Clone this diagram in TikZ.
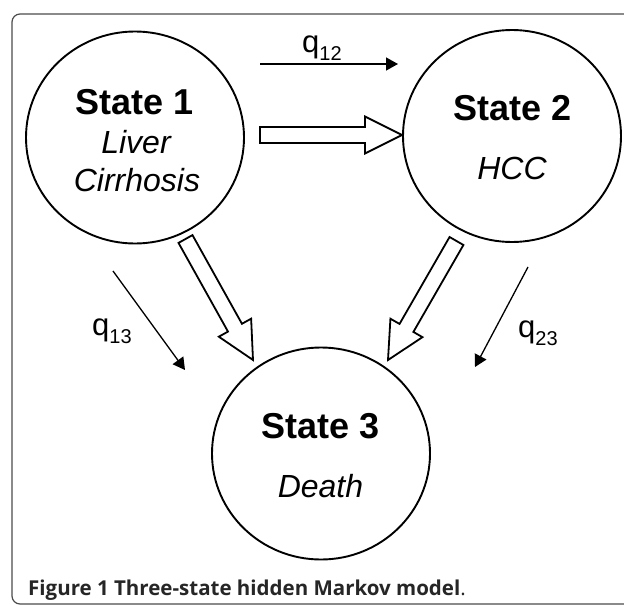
\documentclass[tikz,border=0pt]{standalone}
\usepackage{fontspec}
\setmainfont{Liberation Sans}
\newfontfamily\capfont{Open Sans}
\usetikzlibrary{calc,arrows.meta,shapes.geometric}
\newcommand{\blockarrow}[3]{%
  \coordinate (#3h) at ($(#2)!37pt!(#1)$);
  \draw[block] ($(#1)!8pt!90:(#2)$) -- ($(#3h)!8pt!90:(#2)$) -- ($(#3h)!18.5pt!90:(#2)$) -- (#2)
    -- ($(#3h)!18.5pt!-90:(#2)$) -- ($(#3h)!8pt!-90:(#2)$) -- ($(#1)!8pt!-90:(#2)$) -- cycle;}
\begin{document}
\begin{tikzpicture}[x=1pt,y=-1pt,
  state/.style={draw, line width=1.9pt, ellipse, minimum width=218pt, minimum height=212pt, inner sep=0pt},
  stitle/.style={font=\fontsize{36}{36}\selectfont\bfseries, anchor=base, inner sep=0pt},
  ssub/.style={font=\fontsize{32}{32}\selectfont\itshape, anchor=base, inner sep=0pt},
  thinarrow/.style={line width=1.3pt, -{Triangle[length=12pt,width=13pt]}},
  block/.style={draw, line width=1.8pt, fill=white, line join=miter},
  rate/.style={font=\fontsize{31}{31}\selectfont, anchor=base west, inner sep=0pt}]
\useasboundingbox (0,0) rectangle (624,605);
\clip (0,0) rectangle (624,605);
\fill[white] (0,0) rectangle (624,605);
% frame
\draw[line width=1.2pt, black!70, rounded corners=8pt] (660,14) -- (12,14) -- (12,604) -- (660,604);
% states
\node[state] (s1) at (135,137.5) {};
\node[state] (s2) at (512,136) {};
\node[state] (s3) at (321,453.5) {};
\node[stitle] (t1) at (135,114) {State 1};
\node[ssub] (l1a) at (136,153) {Liver};
\node[ssub] (l1b) at (137,191) {Cirrhosis};
\node[stitle] (t2) at (512.5,120) {State 2};
\node[ssub] (l2) at (512,179) {HCC};
\node[stitle] (t3) at (321,438) {State 3};
\node[ssub] (l3) at (320.5,497) {Death};
% block arrows
\coordinate (b12t) at (260,135);
\coordinate (b12e) at (402,135);
\coordinate (b13t) at (185.5,239);
\coordinate (b13e) at (253,360);
\coordinate (b23t) at (456.5,241);
\coordinate (b23e) at (388,360);
\blockarrow{b12t}{b12e}{x12}
\blockarrow{b13t}{b13e}{x13}
\blockarrow{b23t}{b23e}{x23}
% thin arrows
\coordinate (q12a) at (260,64);
\coordinate (q12b) at (398,64);
\coordinate (q13a) at (113,271);
\coordinate (q13b) at (185,370);
\coordinate (q23a) at (528,267);
\coordinate (q23b) at (475,367);
\draw[thinarrow] (q12a) -- (q12b);
\draw[thinarrow] (q13a) -- (q13b);
\draw[thinarrow] (q23a) -- (q23b);
\node[rate] (r12) at (302,52) {q{\fontsize{20}{20}\selectfont\raisebox{-8pt}{12}}};
\node[rate] (r13) at (92,335) {q{\fontsize{20}{20}\selectfont\raisebox{-8pt}{13}}};
\node[rate] (r23) at (518,337) {q{\fontsize{20}{20}\selectfont\raisebox{-8pt}{23}}};
% caption
\node[anchor=base west, inner sep=0pt, font=\capfont\fontsize{20.5}{20.5}\selectfont, text=black!85] (cap) at (28,595) {\bfseries Figure 1 Three-state hidden Markov model\mdseries.};
\end{tikzpicture}
\end{document}
